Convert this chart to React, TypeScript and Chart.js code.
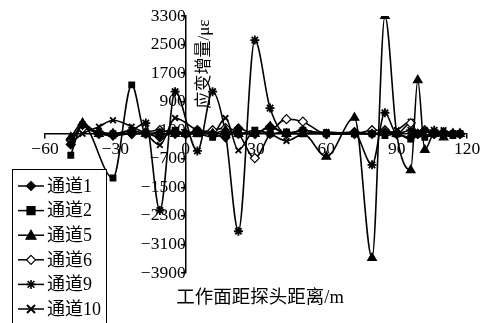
import React, { useEffect, useRef } from "react";
import { Chart, registerables } from "chart.js";

Chart.register(...registerables);

// distance of working face from the probe (m)
const distance = [-49, -44, -37, -31, -23, -17, -11, -4.5, 0, 5, 11.5, 17, 22.5, 29.5, 36, 43, 50, 60, 66, 72, 79.5, 85, 90, 96, 99, 102, 106, 110, 114, 117];

const channel1 = [-300, 250, 0, -50, 0, 0, -100, 50, 0, 100, 0, -100, 150, 0, 200, 0, 100, 0, null, 50, 0, 50, 0, -100, 0, 100, 0, 50, 0, 0];
const channel2 = [-600, 250, null, -1240, 1370, 0, 50, 100, 0, 0, -100, 0, 0, 100, 0, 50, 0, 0, null, 0, 0, -50, 0, -150, 0, -100, 0, 0, -50, 0];
const channel5 = [-100, 300, 0, 0, 100, 0, 0, 0, 0, 0, 0, 100, 0, 0, 200, 0, 0, -640, null, 450, -3480, 3300, 0, -1020, 1500, -450, 0, -100, 0, 0];
const channel6 = [-150, 150, 50, 0, 0, 50, 100, 0, 0, 50, 100, 160, 0, -680, 0, 410, 340, 0, null, 0, 100, 100, 0, 300, 0, 0, 0, 0, 0, 0];
const channel9 = [-200, 200, 0, 0, 100, 300, -2150, 1180, null, -480, 1180, 0, -2730, 2626, 720, 0, 100, 0, null, 0, -870, 590, 0, 100, 0, 0, 100, 0, 0, 0];
const channel10 = [-260, 0, 200, 380, 200, 0, -315, 440, null, 100, 0, 440, -460, 100, 0, -200, 0, 50, null, 0, 0, 0, 100, 340, 0, 100, 0, 100, 0, 0];

const seriesNames = ["通道1", "通道2", "通道5", "通道6", "通道9", "通道10"];
const seriesValues = [channel1, channel2, channel5, channel6, channel9, channel10];

const xTitle = "工作面距探头距离/m";
const yTitle = "应变增量/με";

const FONT = '"Liberation Serif", "Noto Sans CJK SC", serif';

const markers = [
  { style: "rectRot", radius: 4.5, fill: "#000" },
  { style: "rect", radius: 4, fill: "#000" },
  { style: "triangle", radius: 5, fill: "#000" },
  { style: "rectRot", radius: 4.5, fill: "#fff" },
  { style: "star", radius: 4.5, fill: "#000" },
  { style: "crossRot", radius: 4, fill: "#000" },
];

function drawMarker(ctx: CanvasRenderingContext2D, style: string, x: number, y: number, r: number, fill: string) {
  ctx.save();
  ctx.strokeStyle = "#000";
  ctx.fillStyle = fill;
  ctx.lineWidth = 1.2;
  ctx.beginPath();
  if (style === "rectRot") {
    ctx.moveTo(x, y - r);
    ctx.lineTo(x + r, y);
    ctx.lineTo(x, y + r);
    ctx.lineTo(x - r, y);
    ctx.closePath();
    ctx.fill();
    ctx.stroke();
  } else if (style === "rect") {
    ctx.rect(x - r, y - r, 2 * r, 2 * r);
    ctx.fill();
    ctx.stroke();
  } else if (style === "triangle") {
    ctx.moveTo(x, y - r);
    ctx.lineTo(x + r, y + r * 0.8);
    ctx.lineTo(x - r, y + r * 0.8);
    ctx.closePath();
    ctx.fill();
    ctx.stroke();
  } else if (style === "star") {
    ctx.lineWidth = 1.6;
    ctx.moveTo(x - r, y); ctx.lineTo(x + r, y);
    ctx.moveTo(x, y - r); ctx.lineTo(x, y + r);
    const d = r * 0.75;
    ctx.moveTo(x - d, y - d); ctx.lineTo(x + d, y + d);
    ctx.moveTo(x + d, y - d); ctx.lineTo(x - d, y + d);
    ctx.stroke();
  } else {
    ctx.lineWidth = 2;
    ctx.moveTo(x - r, y - r); ctx.lineTo(x + r, y + r);
    ctx.moveTo(x + r, y - r); ctx.lineTo(x - r, y + r);
    ctx.stroke();
  }
  ctx.restore();
}

const overlayPlugin = {
  id: "overlay",
  afterDraw(chart: any) {
    const ctx: CanvasRenderingContext2D = chart.ctx;
    ctx.save();
    // axis titles
    ctx.fillStyle = "#000";
    ctx.font = `18.5px ${FONT}`;
    ctx.textAlign = "center";
    ctx.textBaseline = "middle";
    ctx.fillText(xTitle, 260, 298);
    ctx.save();
    ctx.font = `17px ${FONT}`;
    ctx.translate(205, 64);
    ctx.rotate(-Math.PI / 2);
    ctx.fillText(yTitle, 0, 0);
    ctx.restore();

    // legend
    ctx.fillStyle = "#fff";
    ctx.fillRect(12.5, 169.5, 94, 160);
    ctx.strokeStyle = "#000";
    ctx.lineWidth = 1;
    ctx.strokeRect(12.5, 169.5, 94, 160);
    ctx.font = `18px ${FONT}`;
    ctx.textAlign = "left";
    ctx.textBaseline = "middle";
    seriesNames.forEach((name, i) => {
      const y = 186 + i * 24.6;
      ctx.strokeStyle = "#000";
      ctx.lineWidth = 1.5;
      ctx.beginPath();
      ctx.moveTo(18, y);
      ctx.lineTo(44, y);
      ctx.stroke();
      const m = markers[i];
      drawMarker(ctx, m.style, 31, y, m.radius, m.fill);
      ctx.fillStyle = "#000";
      ctx.fillText(name, 47, y + 1);
    });
    ctx.restore();
  },
};

export default function App() {
  const canvasRef = useRef<HTMLCanvasElement | null>(null);

  useEffect(() => {
    const canvas = canvasRef.current;
    if (!canvas) return;
    const datasets = seriesNames.map((name, i) => ({
      label: name,
      data: distance.map((x, j) => ({ x, y: seriesValues[i][j] })),
      borderColor: "#000",
      borderWidth: 1.6,
      backgroundColor: markers[i].fill,
      pointStyle: markers[i].style as any,
      pointRadius: markers[i].radius,
      pointBorderColor: "#000",
      pointBackgroundColor: markers[i].fill,
      pointBorderWidth: markers[i].style === "crossRot" || markers[i].style === "star" ? 1.8 : 1.2,
      cubicInterpolationMode: "monotone" as const,
      spanGaps: true,
      fill: false,
    }));
    const chart = new Chart(canvas, {
      type: "line",
      data: { datasets },
      options: {
        responsive: false,
        animation: false,
        layout: { padding: { left: 45, right: 20, top: 16, bottom: 50 } },
        plugins: { legend: { display: false }, tooltip: { enabled: false } },
        scales: {
          x: {
            type: "linear",
            position: { y: 0 } as any,
            min: -60,
            max: 120,
            afterFit: (s: any) => { s.height = 0; },
            ticks: {
              stepSize: 30,
              autoSkip: false,
              maxRotation: 0,
              color: "#000",
              padding: 1,
              font: { family: FONT, size: 17.5 },
              callback: (v: any) => String(v).replace("-", "\u2212"),
            },
            grid: { drawOnChartArea: false, drawTicks: true, tickLength: 4, color: "#000", lineWidth: 1.5 },
            border: { color: "#000", width: 1.5 },
          },
          y: {
            type: "linear",
            position: { x: 0 } as any,
            min: -3900,
            max: 3300,
            afterFit: (s: any) => { s.width = 0; },
            ticks: {
              stepSize: 800,
              autoSkip: false,
              color: "#000",
              padding: 4,
              font: { family: FONT, size: 17.5 },
              callback: (v: any) => String(v).replace("-", "\u2212"),
            },
            grid: { drawOnChartArea: false, drawTicks: true, tickLength: 4, color: "#000", lineWidth: 1.5 },
            border: { color: "#000", width: 1.5 },
          },
        },
      },
      plugins: [overlayPlugin],
    });
    return () => chart.destroy();
  }, []);

  return (
    <div style={{ position: "fixed", left: 0, top: 0, width: 487, height: 323, background: "#fff" }}>
      <canvas ref={canvasRef} width={487} height={323} />
    </div>
  );
}
